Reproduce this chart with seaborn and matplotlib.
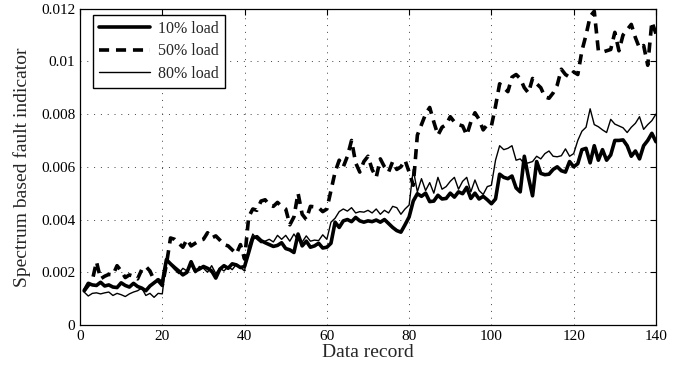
import numpy as np
import pandas as pd
import matplotlib
matplotlib.use("Agg")
import matplotlib.pyplot as plt
import seaborn as sns
from matplotlib.ticker import FuncFormatter

# Data, records 1..140
records = list(range(1, 141))

load_10 = [
    0.00130, 0.00158, 0.00152, 0.00150, 0.00162, 0.00148, 0.00152, 0.00144, 0.00142, 0.00160,
    0.00150, 0.00144, 0.00158, 0.00146, 0.00140, 0.00130, 0.00148, 0.00160, 0.00172, 0.00160,
    0.00248, 0.00232, 0.00218, 0.00205, 0.00190, 0.00200, 0.00240, 0.00205, 0.00212, 0.00222,
    0.00215, 0.00205, 0.00178, 0.00212, 0.00225, 0.00215, 0.00232, 0.00228, 0.00218, 0.00222,
    0.00275, 0.00330, 0.00335, 0.00320, 0.00312, 0.00305, 0.00298, 0.00302, 0.00312, 0.00290,
    0.00285, 0.00275, 0.00345, 0.00300, 0.00318, 0.00295, 0.00300, 0.00310, 0.00292, 0.00295,
    0.00310, 0.00390, 0.00370, 0.00395, 0.00400, 0.00392, 0.00408, 0.00395, 0.00390, 0.00395,
    0.00392, 0.00398, 0.00390, 0.00400, 0.00385, 0.00370, 0.00358, 0.00352, 0.00380, 0.00410,
    0.00470, 0.00498, 0.00488, 0.00500, 0.00468, 0.00470, 0.00492, 0.00478, 0.00480, 0.00500,
    0.00485, 0.00505, 0.00498, 0.00522, 0.00480, 0.00500, 0.00478, 0.00488, 0.00475, 0.00460,
    0.00478, 0.00572, 0.00560, 0.00555, 0.00565, 0.00520, 0.00505, 0.00640, 0.00560, 0.00490,
    0.00620, 0.00575, 0.00570, 0.00572, 0.00590, 0.00600, 0.00585, 0.00580, 0.00620, 0.00600,
    0.00612, 0.00665, 0.00670, 0.00615, 0.00680, 0.00625, 0.00665, 0.00625, 0.00645, 0.00700,
    0.00700, 0.00702, 0.00680, 0.00640, 0.00660, 0.00630, 0.00680, 0.00700, 0.00727, 0.00695,
]

load_50 = [
    0.00130, 0.00150, 0.00170, 0.00240, 0.00175, 0.00185, 0.00192, 0.00190, 0.00225, 0.00205,
    0.00180, 0.00190, 0.00185, 0.00175, 0.00210, 0.00222, 0.00205, 0.00170, 0.00168, 0.00150,
    0.00230, 0.00330, 0.00325, 0.00310, 0.00295, 0.00325, 0.00300, 0.00310, 0.00320, 0.00325,
    0.00350, 0.00330, 0.00338, 0.00322, 0.00305, 0.00300, 0.00285, 0.00270, 0.00305, 0.00250,
    0.00410, 0.00440, 0.00435, 0.00470, 0.00475, 0.00455, 0.00450, 0.00465, 0.00450, 0.00440,
    0.00380, 0.00410, 0.00500, 0.00420, 0.00400, 0.00450, 0.00448, 0.00445, 0.00430, 0.00440,
    0.00510, 0.00580, 0.00625, 0.00600, 0.00640, 0.00700, 0.00615, 0.00580, 0.00620, 0.00640,
    0.00590, 0.00560, 0.00630, 0.00600, 0.00580, 0.00620, 0.00590, 0.00600, 0.00625, 0.00580,
    0.00530, 0.00720, 0.00760, 0.00800, 0.00825, 0.00770, 0.00720, 0.00750, 0.00760, 0.00790,
    0.00770, 0.00760, 0.00755, 0.00720, 0.00770, 0.00805, 0.00780, 0.00740, 0.00760, 0.00755,
    0.00830, 0.00915, 0.00900, 0.00885, 0.00940, 0.00950, 0.00935, 0.00900, 0.00880, 0.00935,
    0.00915, 0.00900, 0.00865, 0.00860, 0.00880, 0.00910, 0.00970, 0.00950, 0.00940, 0.00960,
    0.00950, 0.01040, 0.01100, 0.01170, 0.01190, 0.01040, 0.01035, 0.01040, 0.01045, 0.01110,
    0.01040, 0.01100, 0.01120, 0.01140, 0.01090, 0.01050, 0.01060, 0.00985, 0.01150, 0.01105,
]

load_80 = [
    0.00125, 0.00110, 0.00120, 0.00122, 0.00118, 0.00122, 0.00125, 0.00112, 0.00120, 0.00115,
    0.00108, 0.00118, 0.00125, 0.00130, 0.00140, 0.00112, 0.00120, 0.00105, 0.00120, 0.00118,
    0.00250, 0.00228, 0.00210, 0.00195, 0.00215, 0.00205, 0.00228, 0.00198, 0.00222, 0.00215,
    0.00200, 0.00225, 0.00195, 0.00215, 0.00205, 0.00222, 0.00210, 0.00230, 0.00218, 0.00205,
    0.00300, 0.00345, 0.00325, 0.00312, 0.00318, 0.00325, 0.00315, 0.00340, 0.00325, 0.00340,
    0.00318, 0.00345, 0.00322, 0.00315, 0.00338, 0.00318, 0.00322, 0.00320, 0.00342, 0.00325,
    0.00390, 0.00405, 0.00430, 0.00440, 0.00432, 0.00445, 0.00425, 0.00430, 0.00428, 0.00435,
    0.00425, 0.00440, 0.00420, 0.00435, 0.00425, 0.00450, 0.00445, 0.00420, 0.00440, 0.00455,
    0.00590, 0.00505, 0.00555, 0.00510, 0.00540, 0.00500, 0.00560, 0.00515, 0.00525, 0.00545,
    0.00560, 0.00515, 0.00545, 0.00560, 0.00505, 0.00550, 0.00510, 0.00495, 0.00525, 0.00530,
    0.00625, 0.00680, 0.00665, 0.00670, 0.00680, 0.00625, 0.00630, 0.00612, 0.00615, 0.00620,
    0.00640, 0.00630, 0.00650, 0.00660, 0.00640, 0.00638, 0.00642, 0.00668, 0.00640, 0.00650,
    0.00700, 0.00735, 0.00750, 0.00820, 0.00760, 0.00752, 0.00740, 0.00730, 0.00780, 0.00762,
    0.00755, 0.00748, 0.00730, 0.00750, 0.00765, 0.00790, 0.00742, 0.00760, 0.00775, 0.00800,
]

df = pd.DataFrame({
    "record": records,
    "10% load": load_10,
    "50% load": load_50,
    "80% load": load_80,
})

sns.set_style("white")
plt.rcParams["font.family"] = ["Liberation Serif", "DejaVu Serif"]

fig = plt.figure(figsize=(6.94, 3.74), dpi=100)
ax = fig.add_axes([0.1153, 0.131, 0.8299, 0.846])

# three load levels
sns.lineplot(data=df, x="record", y="10% load", ax=ax, color="black",
             linewidth=2.6, label="10% load")
sns.lineplot(data=df, x="record", y="50% load", ax=ax, color="black",
             linewidth=2.6, linestyle=(0, (2.8, 1.9)), label="50% load")
sns.lineplot(data=df, x="record", y="80% load", ax=ax, color="black",
             linewidth=1.0, label="80% load")

ax.set_xlim(0, 140)
ax.set_ylim(0, 0.012)
ax.set_xticks(range(0, 141, 20))
ax.set_yticks(np.arange(0, 0.0121, 0.002))
ax.yaxis.set_major_formatter(FuncFormatter(lambda v, p: "%g" % round(v, 4)))

ax.grid(True, linestyle=(0, (1, 6)), color="0.25", linewidth=0.7)
ax.tick_params(direction="in", length=4, width=0.8, labelsize=11,
               top=True, right=True, colors="black")
for s in ax.spines.values():
    s.set_color("black")
    s.set_linewidth(0.9)

ax.set_xlabel("Data record", fontsize=14, labelpad=1)
ax.set_ylabel("Spectrum based fault indicator", fontsize=14, labelpad=7)

leg = ax.legend(loc="upper left", fontsize=11.5, frameon=True, fancybox=False,
                edgecolor="black", borderpad=0.4, handlelength=3.2,
                handletextpad=0.5, labelspacing=0.4, borderaxespad=0,
                bbox_to_anchor=(0.022, 0.981))
leg.get_frame().set_linewidth(1.0)
leg.get_frame().set_alpha(1)

fig.savefig("out.png", dpi=100)
